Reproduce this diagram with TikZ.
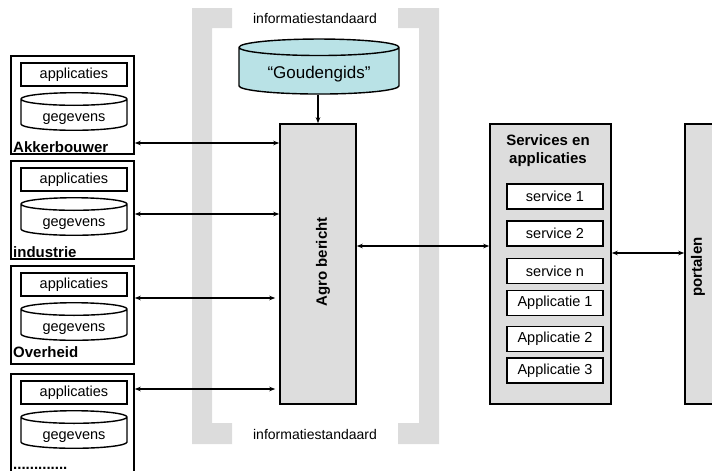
\documentclass[tikz,border=0pt]{standalone}
\usepackage{fontspec}
\setmainfont{Liberation Sans}
\usepackage{tikz}
\usetikzlibrary{arrows.meta,positioning,shapes.geometric}
\definecolor{BoxGray}{HTML}{DDDDDD}
\definecolor{BarGray}{HTML}{DCDCDC}
\definecolor{GidsTeal}{HTML}{B9E2E6}
\tikzset{
  actor/.style={draw, line width=1.6pt, minimum width=123pt, minimum height=98pt,
                inner sep=0pt},
  appbox/.style={draw, fill=white, line width=1.4pt, minimum width=106pt,
                 minimum height=23pt, inner sep=0pt, font=\fontsize{14.5}{16}\selectfont},
  datastore/.style={cylinder, shape border rotate=90, draw, fill=white, line width=1.4pt,
                    minimum width=106pt, minimum height=34pt, aspect=0.2, inner sep=0pt,
                    text height=15pt, text depth=3pt,
                    font=\fontsize{14.5}{16}\selectfont},
  actorlabel/.style={font=\bfseries\fontsize{15}{17}\selectfont, inner sep=0pt,
                     anchor=base west},
  column/.style={draw, fill=BoxGray, line width=1.6pt, minimum height=280pt, inner sep=0pt},
  collabel/.style={font=\bfseries\fontsize{15}{18}\selectfont, inner sep=0pt, align=center},
  svcbox/.style={draw, fill=white, line width=1.4pt, minimum width=96pt, minimum height=25pt,
                 inner sep=0pt, font=\fontsize{14.5}{16}\selectfont},
  stdlabel/.style={font=\fontsize{14}{16}\selectfont, inner sep=0pt},
  bar/.style={fill=BarGray, draw=none},
  link/.style={{Stealth[length=6pt,width=4.5pt]}-{Stealth[length=6pt,width=4.5pt]},
               line width=1.2pt},
  feed/.style={-{Stealth[length=6pt,width=4.5pt]}, line width=1.2pt}
}
\begin{document}
\begin{tikzpicture}[x=1pt, y=-1pt]
  \useasboundingbox (0,0) rectangle (712,471);
  % grey brackets of the information standard
  \fill[bar] (192,8) -- (232,8) -- (232,28) -- (212,28) -- (212,423) -- (232,423)
    -- (232,444) -- (192,444) -- cycle;
  \fill[bar] (398,8) -- (439,8) -- (439,444) -- (398,444) -- (398,423) -- (419,423)
    -- (419,28) -- (398,28) -- cycle;
  \node[stdlabel] (stdtop) at (315,18) {informatiestandaard};
  \node[stdlabel] (stdbottom) at (315,434) {informatiestandaard};

  % parties on the left
  \node[actor] (akker) at (72.5,105) {};
  \node[appbox] (akkerapp) at (74,74.5) {applicaties};
  \node[datastore] (akkerdata) at (74,115) {gegevens};
  \node[actorlabel] (akkerlbl) at (13,152) {Akkerbouwer};

  \node[actor] (industrie) at (72.5,210) {};
  \node[appbox] (industrieapp) at (74,179.5) {applicaties};
  \node[datastore] (industriedata) at (74,220) {gegevens};
  \node[actorlabel] (industrielbl) at (13,257) {industrie};

  \node[actor] (overheid) at (72.5,315) {};
  \node[appbox] (overheidapp) at (74,284.5) {applicaties};
  \node[datastore] (overheiddata) at (74,325) {gegevens};
  \node[actorlabel] (overheidlbl) at (13,357) {Overheid};

  \node[actor, minimum height=110pt] (overig) at (72.5,429) {};
  \node[appbox] (overigapp) at (74,392.5) {applicaties};
  \node[datastore] (overigdata) at (74,433) {gegevens};
  \node[actorlabel] (overiglbl) at (13,469) {.............};

  % central message hub
  \node[datastore, fill=GidsTeal, minimum width=160pt, minimum height=55pt, aspect=0.16,
        text height=18pt, text depth=4pt,
        font=\fontsize{17}{19}\selectfont] (gids) at (319,71) {“Goudengids”};
  \node[column, minimum width=76pt] (agro) at (318,264) {};
  \node[collabel, rotate=90] (agrolbl) at (323,262) {Agro bericht};

  % services and portals
  \node[column, minimum width=121pt] (services) at (550.5,264) {};
  \node[collabel] (svctitle) at (548,151) {Services en\\applicaties};
  \node[svcbox] (service1) at (555,196.5) {service 1};
  \node[svcbox] (service2) at (555,233.5) {service 2};
  \node[svcbox] (servicen) at (555,271) {service n};
  \node[svcbox] (applic1) at (555,303) {Applicatie 1};
  \node[svcbox] (applic2) at (555,339) {Applicatie 2};
  \node[svcbox] (applic3) at (555,370.5) {Applicatie 3};
  \node[column, minimum width=80pt] (portalen) at (725,264) {};
  \node[collabel, rotate=90] (portalenlbl) at (698,267) {portalen};

  \draw[feed] (agro.north |- gids.south) -- (agro.north);
  \draw[link] (akker.east |- 0,143) -- (agro.west |- 0,143);
  \draw[link] (industrie.east |- 0,214) -- (agro.west |- 0,214);
  \draw[link, shorten >=4pt] (overheid.east |- 0,298) -- (agro.west |- 0,298);
  \draw[link, shorten >=4pt] (overig.east |- 0,389) -- (agro.west |- 0,389);
  \draw[link] (agro.east |- 0,246) -- (services.west |- 0,246);
  \draw[link] (services.east |- 0,253) -- (portalen.west |- 0,253);
\end{tikzpicture}
\end{document}
